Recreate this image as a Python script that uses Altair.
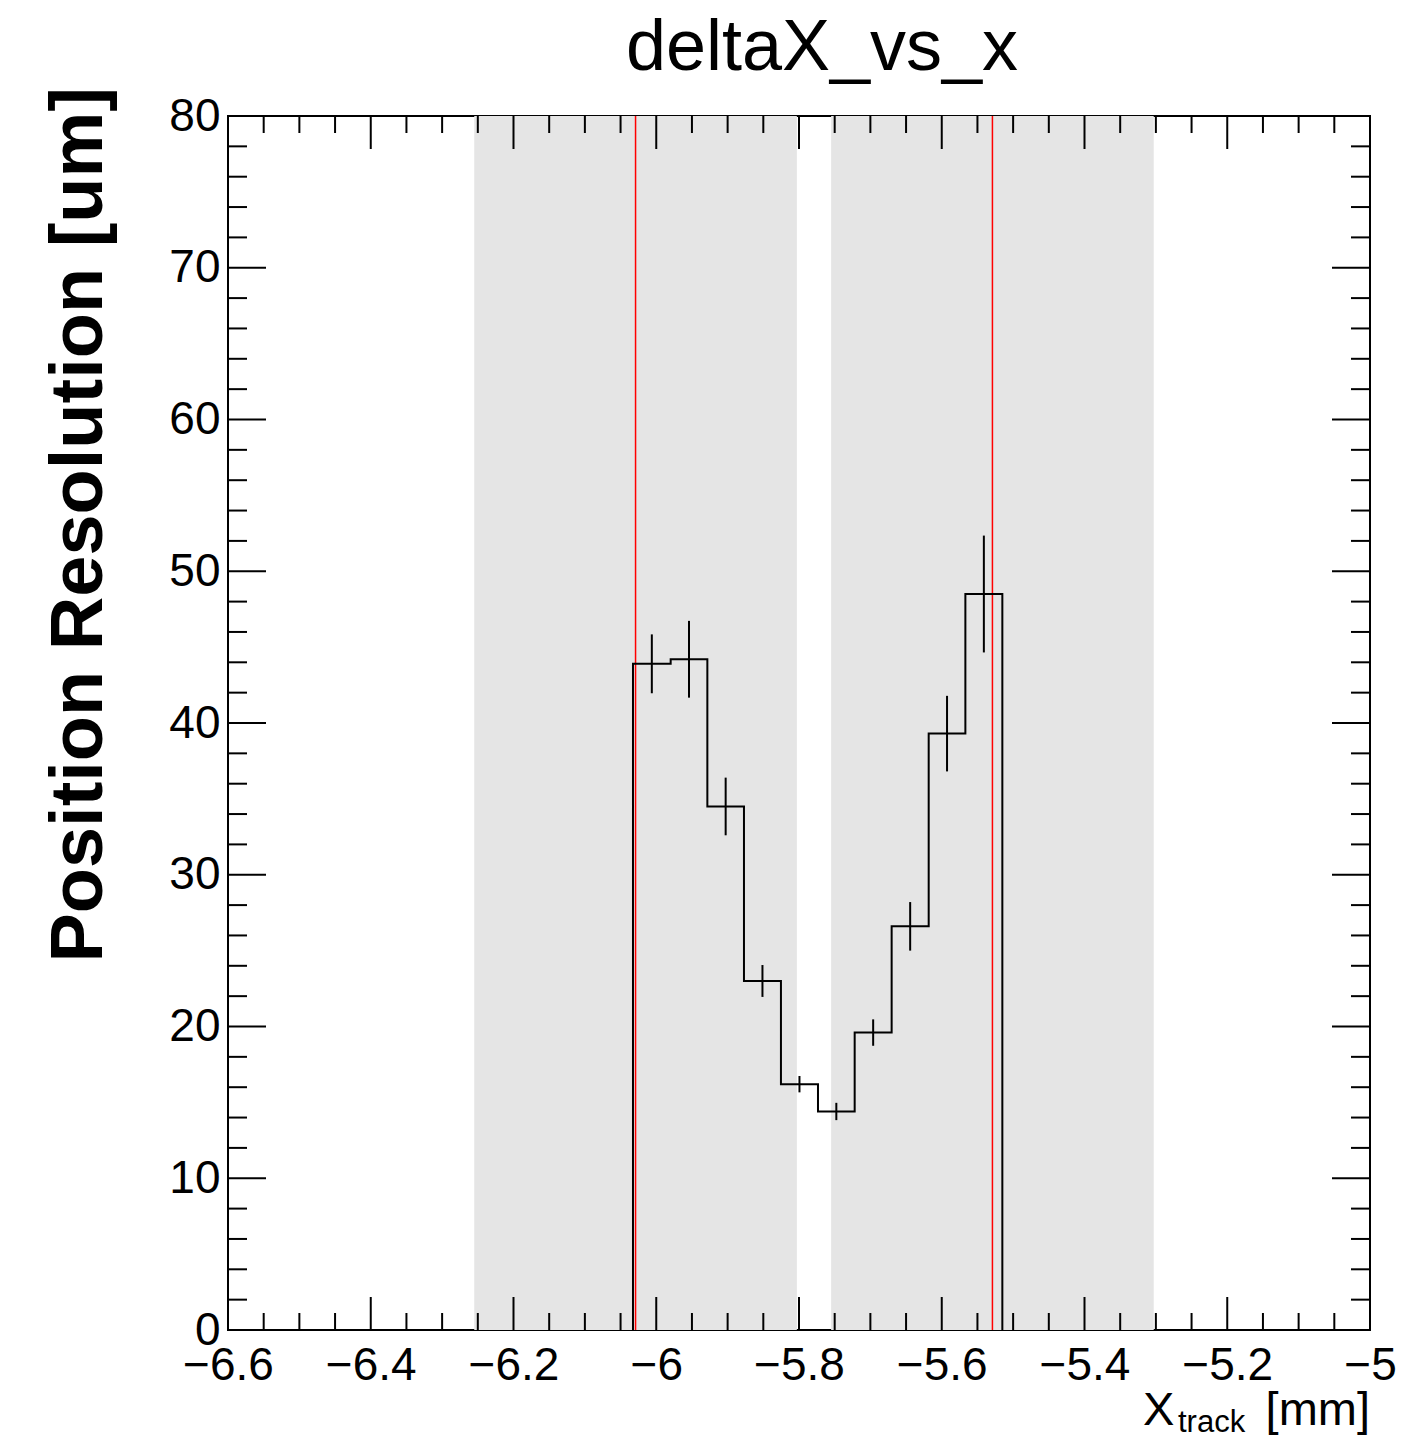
import altair as alt
import pandas as pd

# ---- data ----
bin_edges = [-6.0326, -5.9798, -5.9284, -5.8771, -5.8253, -5.7734,
             -5.7220, -5.6702, -5.6183, -5.5669, -5.5151]
values = [43.9, 44.2, 34.5, 23.0, 16.2, 14.4, 19.6, 26.6, 39.3, 48.5]
errors = [1.94, 2.53, 1.90, 1.05, 0.54, 0.57, 0.87, 1.60, 2.49, 3.85]

band_start = [-6.255, -5.755]
band_end = [-5.803, -5.303]
red_lines = [-6.029, -5.529]

x_major = [-6.6, -6.4, -6.2, -6.0, -5.8, -5.6, -5.4, -5.2, -5.0]
y_major = [0, 10, 20, 30, 40, 50, 60, 70, 80]
x_minor = [round(-6.6 + 0.05 * i, 3) for i in range(33) if i % 4 != 0]
y_minor = [2 * i for i in range(41) if i % 5 != 0]

title_text = "deltaX_vs_x"
y_title = "Position Resolution [um]"

W, H = 1142, 1214
FONT = "Liberation Sans"

xs = alt.Scale(domain=[-6.6, -5.0], nice=False, zero=False)
ys = alt.Scale(domain=[0, 80], nice=False, zero=False)

# step line points
step_rows = [{"i": 0, "x": bin_edges[0], "y": 0.0}]
for k, v in enumerate(values):
    step_rows.append({"i": k + 1, "x": bin_edges[k], "y": v})
step_rows.append({"i": len(values) + 1, "x": bin_edges[-1], "y": values[-1]})
step_rows.append({"i": len(values) + 2, "x": bin_edges[-1], "y": 0.0})
step_df = pd.DataFrame(step_rows)

err_df = pd.DataFrame({
    "xc": [(bin_edges[k] + bin_edges[k + 1]) / 2 for k in range(len(values))],
    "lo": [v - e for v, e in zip(values, errors)],
    "hi": [v + e for v, e in zip(values, errors)],
})

band_df = pd.DataFrame({"x0": band_start, "x1": band_end})
red_df = pd.DataFrame({"x": red_lines})

bands = alt.Chart(band_df).mark_rect(color="#e5e5e5").encode(
    x=alt.X("x0:Q", scale=xs,
            axis=alt.Axis(values=x_major, format="~g", labelFontSize=46,
                          labelFont=FONT, labelColor="black", labelPadding=13,
                          ticks=False, domain=False, grid=False, title=None,
                          labelFlush=False, labelOverlap=False)),
    x2="x1:Q",
    y=alt.value(0), y2=alt.value(H),
)

yaxis_holder = alt.Chart(err_df).mark_point(opacity=0).encode(
    x=alt.X("xc:Q", scale=xs),
    y=alt.Y("lo:Q", scale=ys,
            axis=alt.Axis(values=y_major, format="d", labelFontSize=46,
                          labelFont=FONT, labelColor="black", labelPadding=8,
                          ticks=False, domain=False, grid=False, title=None,
                          labelFlush=False, labelOverlap=False)),
)

reds = alt.Chart(red_df).mark_rule(color="#ff0000", strokeWidth=1.5).encode(
    x=alt.X("x:Q", scale=xs)
)

step = alt.Chart(step_df).mark_line(interpolate="step-after", color="black",
                                    strokeWidth=2).encode(
    x=alt.X("x:Q", scale=xs),
    y=alt.Y("y:Q", scale=ys),
    order="i:Q",
)

errbars = alt.Chart(err_df).mark_rule(color="black", strokeWidth=2).encode(
    x=alt.X("xc:Q", scale=xs),
    y=alt.Y("lo:Q", scale=ys),
    y2="hi:Q",
)

# ROOT-style inward ticks on all four sides
xmaj_df = pd.DataFrame({"v": x_major})
xmin_df = pd.DataFrame({"v": x_minor})
ymaj_df = pd.DataFrame({"v": y_major})
ymin_df = pd.DataFrame({"v": y_minor})


def xticks(df, length):
    b = alt.Chart(df).mark_rule(color="black", strokeWidth=2).encode(
        x=alt.X("v:Q", scale=xs), y=alt.value(H), y2=alt.value(H - length))
    t = alt.Chart(df).mark_rule(color="black", strokeWidth=2).encode(
        x=alt.X("v:Q", scale=xs), y=alt.value(0), y2=alt.value(length))
    return [b, t]


def yticks(df, length):
    l = alt.Chart(df).mark_rule(color="black", strokeWidth=2).encode(
        y=alt.Y("v:Q", scale=ys), x=alt.value(0), x2=alt.value(length))
    r = alt.Chart(df).mark_rule(color="black", strokeWidth=2).encode(
        y=alt.Y("v:Q", scale=ys), x=alt.value(W), x2=alt.value(W - length))
    return [l, r]


ticks = xticks(xmaj_df, 33) + xticks(xmin_df, 17) + yticks(ymaj_df, 38) + yticks(ymin_df, 19)

txt_df = pd.DataFrame({"a": [0]})


def label(text, x, y, size, align="left", baseline="alphabetic", weight="normal", angle=0):
    return alt.Chart(txt_df).mark_text(
        text=text, font=FONT, fontSize=size, fontWeight=weight, align=align,
        baseline=baseline, angle=angle, color="black",
    ).encode(x=alt.value(x), y=alt.value(y))


texts = [
    label(title_text, 594, -46, 72, align="center"),
    label(y_title, -126, -29, 74, align="right", weight="bold", angle=270),
    label("X", 915, 1309, 47),
    label("track", 950, 1316, 31),
    label("[mm]", W, 1309, 47, align="right"),
]

chart = alt.layer(bands, yaxis_holder, reds, step, errbars, *ticks, *texts).properties(
    width=W, height=H,
    padding={"left": 228, "top": 116, "right": 54, "bottom": 108},
    autosize=alt.AutoSizeParams(type="none"),
    background="white",
).configure_view(stroke="black", strokeWidth=2)

chart.save("out.html", embed_options={"renderer": "svg", "actions": False})
